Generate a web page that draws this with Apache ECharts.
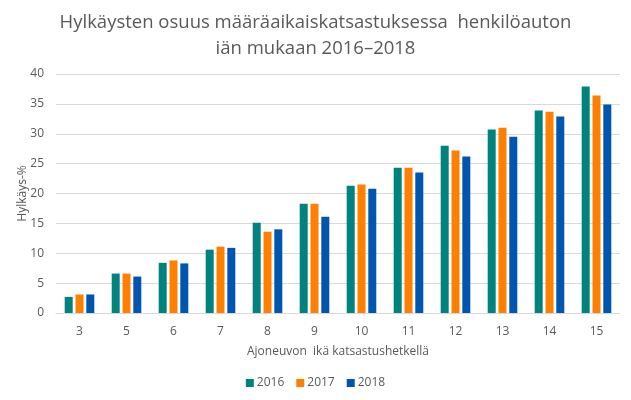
<!DOCTYPE html>
<html>
<head>
<meta charset="utf-8">
<script src="https://cdn.jsdelivr.net/npm/echarts@6/dist/echarts.min.js"></script>
<style>
  html, body { margin: 0; padding: 0; background: #fff; }
  #chart { width: 631px; height: 400px; }
</style>
</head>
<body>
<div id="chart"></div>
<script>
// ikäluokat ja hylkäysprosentit vuosittain
var ages = ["3", "5", "6", "7", "8", "9", "10", "11", "12", "13", "14", "15"];
var years = ["2016", "2017", "2018"];
var data2016 = [2.7, 6.6, 8.4, 10.6, 15.1, 18.3, 21.3, 24.3, 28.0, 30.7, 33.9, 37.9];
var data2017 = [3.1, 6.6, 8.8, 11.1, 13.6, 18.3, 21.5, 24.3, 27.2, 31.0, 33.7, 36.4];
var data2018 = [3.1, 6.1, 8.3, 10.9, 14.0, 16.1, 20.8, 23.5, 26.2, 29.5, 32.9, 34.9];
var colors = ["#00827f", "#ff8000", "#0055b0"];

var font = "Open Sans";
var grey = "#595959";

var myChart = echarts.init(document.getElementById("chart"));

function bar(name, values, color) {
    return {
        name: name,
        type: "bar",
        data: values,
        barWidth: 8,
        barGap: "35%",
        itemStyle: { color: color }
    };
}

var option = {
    animation: false,
    textStyle: { fontFamily: font },
    title: {
        text: "Hylkäysten osuus määräaikaiskatsastuksessa  henkilöauton\niän mukaan 2016–2018",
        left: "center",
        top: 5,
        textStyle: {
            fontFamily: font,
            fontSize: 18.5,
            fontWeight: "normal",
            color: grey,
            lineHeight: 26
        }
    },
    legend: {
        data: years,
        bottom: 6,
        left: "center",
        itemWidth: 8,
        itemHeight: 8,
        itemGap: 12,
        icon: "rect",
        textStyle: { fontSize: 12, color: grey, fontFamily: font, padding: [0, 0, 0, -2] }
    },
    grid: {
        left: 56,
        right: 11,
        top: 74,
        bottom: 87
    },
    xAxis: {
        type: "category",
        data: ages,
        name: "Ajoneuvon  ikä katsastushetkellä",
        nameLocation: "middle",
        nameGap: 33,
        nameTextStyle: { fontSize: 12, color: grey },
        axisLine: { lineStyle: { color: "#d9d9d9" } },
        axisTick: { show: false },
        axisLabel: { fontSize: 12, color: grey, margin: 13 }
    },
    yAxis: {
        type: "value",
        min: 0,
        max: 40,
        interval: 5,
        name: "Hylkäys-%",
        nameLocation: "middle",
        nameGap: 27,
        nameMoveOverlap: false,
        nameTextStyle: { fontSize: 12, color: grey },
        axisLine: { show: false },
        axisTick: { show: false },
        splitLine: { lineStyle: { color: "#d9d9d9" } },
        axisLabel: { fontSize: 12, color: grey, margin: 12 }
    },
    series: [
        bar(years[0], data2016, colors[0]),
        bar(years[1], data2017, colors[1]),
        bar(years[2], data2018, colors[2])
    ]
};

myChart.setOption(option);
</script>
</body>
</html>
